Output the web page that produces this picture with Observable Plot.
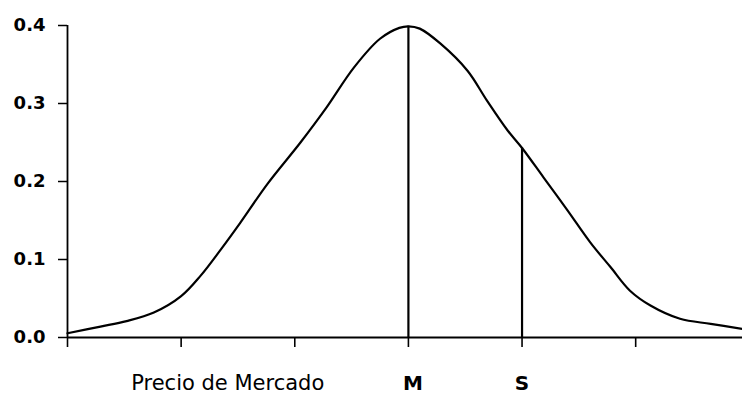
<!DOCTYPE html>
<html>
<head>
<meta charset="utf-8">
<script src="https://cdn.jsdelivr.net/npm/d3@7"></script>
<script src="https://cdn.jsdelivr.net/npm/@observablehq/plot@0.6"></script>
<style>
  html, body { margin: 0; padding: 0; background: #fff; }
  #chart svg { display: block; }
</style>
</head>
<body>
<div id="chart"></div>
<script>
// Curva de densidad del precio (eje x en desviaciones respecto a M)
const posicion = [-3.0, -2.71, -2.48, -2.24, -2.0, -1.83, -1.65, -1.48, -1.24, -0.95,
                  -0.72, -0.48, -0.25, -0.08, 0.0, 0.10, 0.28, 0.52, 0.69, 0.87,
                  1.0, 1.19, 1.40, 1.60, 1.78, 1.95, 2.13, 2.39, 2.66, 2.94];
const densidad = [0.0055, 0.014, 0.021, 0.032, 0.053, 0.079, 0.113, 0.147, 0.197, 0.250,
                  0.295, 0.346, 0.383, 0.397, 0.399, 0.396, 0.377, 0.342, 0.304, 0.266,
                  0.243, 0.205, 0.163, 0.122, 0.090, 0.060, 0.041, 0.024, 0.0175, 0.011];

// Líneas verticales: M (media) y S
const marcas = ["M", "S"];
const marcaPos = [0.0, 1.0];
const marcaAlto = [0.399, 0.243];
const marcaTextoPos = [0.04, 1.0];

// Rótulo del eje horizontal
const rotulo = ["Precio de Mercado"];
const rotuloPos = [-1.59];

const yTicks = [0, 0.1, 0.2, 0.3, 0.4];
const xTicks = [-3, -2, -1, 0, 1, 2];

const curva = posicion.map((x, i) => ({x, y: densidad[i]}));
const lineas = marcas.map((m, i) => ({m, x: marcaPos[i], y: marcaAlto[i], xt: marcaTextoPos[i]}));
const rotulos = rotulo.map((t, i) => ({t, x: rotuloPos[i]}));

const chart = Plot.plot({
  width: 742,
  height: 395,
  marginLeft: 67,
  marginRight: 0,
  marginTop: 25,
  marginBottom: 58,
  style: {fontFamily: "DejaVu Sans", color: "#000", background: "#fff"},
  x: {domain: [-3, 2.94]},
  y: {domain: [0, 0.4]},
  marks: [
    Plot.axisY({ticks: yTicks, tickSize: 9, tickPadding: 13, tickFormat: d3.format(".1f"), label: null,
      strokeWidth: 1.5, fontSize: 18, fontWeight: "bold", fontFamily: "DejaVu Sans"}),
    Plot.axisX({ticks: xTicks, tickSize: 10, tickFormat: () => "", label: null, strokeWidth: 1.6}),
    Plot.ruleX([-3], {y1: 0, y2: 0.4, stroke: "#000", strokeWidth: 1.8}),
    Plot.ruleY([0], {stroke: "#000", strokeWidth: 2.2}),
    Plot.ruleX(lineas, {x: "x", y1: 0, y2: "y", stroke: "#000", strokeWidth: 2.2}),
    Plot.line(curva, {x: "x", y: "y", curve: "catmull-rom", stroke: "#000", strokeWidth: 2.2}),
    Plot.text(rotulos, {x: "x", text: "t", frameAnchor: "bottom", dy: 46, lineAnchor: "middle",
      fontSize: 21, fontWeight: "normal", fontFamily: "DejaVu Sans", fill: "#000"}),
    Plot.text(lineas, {x: "xt", text: "m", frameAnchor: "bottom", dy: 46, lineAnchor: "middle",
      fontSize: 20, fontWeight: "bold", fontFamily: "DejaVu Sans", fill: "#000"})
  ]
});
document.getElementById("chart").appendChild(chart);
</script>
</body>
</html>
